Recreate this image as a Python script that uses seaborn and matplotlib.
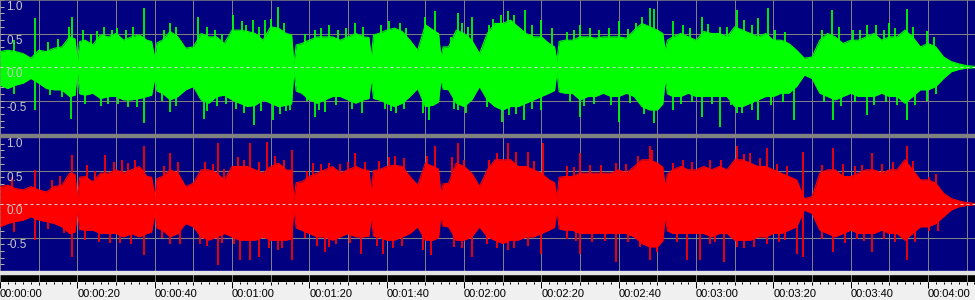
import numpy as np
import pandas as pd
import matplotlib
matplotlib.use("Agg")
import matplotlib.pyplot as plt
import seaborn as sns
from matplotlib.patches import Rectangle
from matplotlib.ticker import MultipleLocator, FixedLocator

# ---------------- data ----------------
times = list(range(0, 254, 2))  # seconds, body envelope sampled every 2 s

green_up = [0.23, 0.25, 0.23, 0.20, 0.13, 0.25, 0.23, 0.28, 0.30, 0.45, 0.08, 0.40, 0.33, 0.48, 0.45, 0.50, 0.40, 0.45, 0.48, 0.40,
            0.13, 0.40, 0.53, 0.45, 0.28, 0.30, 0.50, 0.45, 0.45, 0.35, 0.55, 0.55, 0.53, 0.50, 0.40, 0.60, 0.58, 0.50, 0.05, 0.35,
            0.40, 0.45, 0.45, 0.45, 0.40, 0.45, 0.50, 0.45, 0.13, 0.50, 0.55, 0.58, 0.53, 0.40, 0.25, 0.63, 0.55, 0.15, 0.30, 0.55,
            0.50, 0.40, 0.20, 0.50, 0.65, 0.65, 0.70, 0.60, 0.50, 0.45, 0.45, 0.35, 0.08, 0.40, 0.40, 0.45, 0.45, 0.43, 0.45, 0.45,
            0.45, 0.43, 0.55, 0.65, 0.60, 0.55, 0.25, 0.45, 0.50, 0.45, 0.40, 0.53, 0.50, 0.50, 0.45, 0.60, 0.55, 0.50, 0.45, 0.50,
            0.40, 0.40, 0.35, 0.25, 0.13, 0.15, 0.40, 0.50, 0.45, 0.35, 0.40, 0.40, 0.45, 0.50, 0.40, 0.45, 0.45, 0.55, 0.45, 0.30,
            0.35, 0.30, 0.15, 0.08, 0.045, 0.02, 0.01]
green_lo = [0.27, 0.32, 0.27, 0.24, 0.17, 0.24, 0.32, 0.34, 0.34, 0.44, 0.07, 0.42, 0.39, 0.47, 0.44, 0.44, 0.49, 0.49, 0.47, 0.44,
            0.17, 0.39, 0.49, 0.44, 0.34, 0.29, 0.49, 0.54, 0.44, 0.42, 0.49, 0.54, 0.59, 0.57, 0.49, 0.54, 0.59, 0.57, 0.05, 0.39,
            0.49, 0.54, 0.49, 0.44, 0.44, 0.49, 0.54, 0.49, 0.17, 0.49, 0.54, 0.59, 0.54, 0.44, 0.32, 0.59, 0.57, 0.19, 0.34, 0.54,
            0.59, 0.49, 0.29, 0.49, 0.59, 0.64, 0.59, 0.59, 0.54, 0.49, 0.44, 0.39, 0.07, 0.39, 0.39, 0.49, 0.44, 0.44, 0.39, 0.44,
            0.44, 0.39, 0.44, 0.59, 0.64, 0.64, 0.19, 0.44, 0.44, 0.39, 0.44, 0.44, 0.44, 0.44, 0.44, 0.59, 0.59, 0.54, 0.49, 0.44,
            0.44, 0.39, 0.39, 0.29, 0.12, 0.17, 0.39, 0.44, 0.49, 0.44, 0.39, 0.44, 0.44, 0.44, 0.39, 0.44, 0.44, 0.54, 0.44, 0.34,
            0.34, 0.29, 0.17, 0.07, 0.035, 0.015, 0.01]
red_up = [0.26, 0.28, 0.23, 0.21, 0.26, 0.21, 0.18, 0.26, 0.28, 0.46, 0.08, 0.41, 0.33, 0.46, 0.46, 0.51, 0.46, 0.51, 0.56, 0.41,
          0.11, 0.41, 0.51, 0.46, 0.26, 0.31, 0.51, 0.51, 0.46, 0.36, 0.56, 0.56, 0.56, 0.51, 0.46, 0.56, 0.61, 0.51, 0.06, 0.33,
          0.41, 0.46, 0.51, 0.56, 0.46, 0.51, 0.56, 0.51, 0.18, 0.51, 0.56, 0.58, 0.56, 0.41, 0.28, 0.61, 0.56, 0.16, 0.31, 0.61,
          0.56, 0.46, 0.26, 0.51, 0.66, 0.66, 0.66, 0.56, 0.56, 0.51, 0.46, 0.36, 0.08, 0.41, 0.41, 0.46, 0.46, 0.46, 0.46, 0.46,
          0.51, 0.46, 0.56, 0.66, 0.66, 0.61, 0.26, 0.51, 0.56, 0.51, 0.51, 0.56, 0.51, 0.56, 0.51, 0.66, 0.66, 0.61, 0.56, 0.56,
          0.51, 0.46, 0.41, 0.36, 0.08, 0.11, 0.46, 0.51, 0.51, 0.41, 0.41, 0.46, 0.51, 0.51, 0.46, 0.51, 0.51, 0.66, 0.51, 0.36,
          0.36, 0.31, 0.16, 0.08, 0.045, 0.02, 0.01]
red_lo = [0.34, 0.29, 0.26, 0.24, 0.19, 0.24, 0.26, 0.29, 0.34, 0.44, 0.09, 0.39, 0.39, 0.44, 0.44, 0.44, 0.49, 0.44, 0.49, 0.44,
          0.14, 0.39, 0.49, 0.44, 0.29, 0.34, 0.49, 0.54, 0.49, 0.44, 0.49, 0.54, 0.54, 0.54, 0.49, 0.54, 0.54, 0.54, 0.06, 0.39,
          0.44, 0.49, 0.49, 0.54, 0.49, 0.44, 0.49, 0.49, 0.19, 0.49, 0.54, 0.54, 0.49, 0.44, 0.34, 0.54, 0.54, 0.19, 0.34, 0.54,
          0.54, 0.49, 0.34, 0.49, 0.54, 0.59, 0.54, 0.54, 0.49, 0.49, 0.44, 0.39, 0.09, 0.39, 0.39, 0.44, 0.44, 0.44, 0.44, 0.44,
          0.44, 0.44, 0.49, 0.59, 0.64, 0.64, 0.19, 0.44, 0.44, 0.44, 0.44, 0.44, 0.49, 0.44, 0.44, 0.54, 0.54, 0.54, 0.49, 0.49,
          0.44, 0.44, 0.39, 0.34, 0.09, 0.14, 0.39, 0.44, 0.49, 0.44, 0.39, 0.44, 0.44, 0.44, 0.39, 0.44, 0.44, 0.54, 0.44, 0.34,
          0.34, 0.29, 0.19, 0.09, 0.04, 0.02, 0.01]

# body level just either side of the sharp silent notches
edge_t = [19.4, 20.6, 39.2, 40.6, 75.4, 76.6, 95.4, 96.6, 113.4, 114.6, 143.4, 144.6, 171.4, 172.6]
green_edge_up = [0.42, 0.38, 0.38, 0.36, 0.48, 0.33, 0.44, 0.48, 0.50, 0.30, 0.30, 0.38, 0.50, 0.40]
green_edge_lo = [0.42, 0.40, 0.42, 0.36, 0.55, 0.36, 0.47, 0.47, 0.52, 0.33, 0.35, 0.37, 0.55, 0.40]
red_edge_up = [0.44, 0.40, 0.40, 0.38, 0.50, 0.32, 0.50, 0.50, 0.52, 0.30, 0.32, 0.40, 0.55, 0.45]
red_edge_lo = [0.42, 0.38, 0.42, 0.36, 0.52, 0.36, 0.48, 0.48, 0.50, 0.33, 0.35, 0.37, 0.55, 0.40]

# isolated peaks above / below the dense body
green_spk_up_t = [9.1, 17.9, 18.7, 25.0, 30.2, 37.2, 44.0, 51.3, 60.3, 65.5, 68.5, 72.0, 81.5, 85.0, 91.8, 100.5, 110.0, 112.5,
                  118.5, 122.0, 129.5, 131.4, 135.8, 140.0, 142.7, 150.0, 160.0, 166.0, 168.1, 169.0, 174.0, 181.5, 186.2,
                  190.5, 196.1, 198.7, 215.1, 224.1, 230.0, 234.5, 239.6,
                  3.5, 12.5, 15.0, 21.5, 23.5, 27.0, 29.0, 32.5, 34.5, 42.5, 45.5, 53.5, 55.5, 57.5, 62.5, 63.5, 67.0, 70.0,
                  73.5, 79.0, 83.0, 87.5, 89.5, 94.0, 98.5, 103.5, 105.0, 116.5, 119.5, 121.0, 126.5, 127.5, 133.0, 137.5,
                  146.5, 148.5, 152.5, 155.0, 157.5, 162.5, 164.5, 176.5, 178.5, 183.0, 188.0, 192.5, 194.5, 200.5, 203.0,
                  212.5, 217.0, 220.5, 222.5, 226.5, 228.5, 231.5, 236.0, 241.5]
green_spk_up_v = [0.73, 0.60, 0.75, 0.53, 0.58, 0.88, 0.65, 0.75, 0.78, 0.70, 0.70, 0.90, 0.55, 0.63, 0.65, 0.68, 0.75, 0.83,
                  0.80, 0.75, 0.78, 0.83, 0.85, 0.70, 0.58, 0.63, 0.68, 0.75, 0.88, 0.86, 0.68, 0.75, 0.60,
                  0.85, 0.73, 0.88, 0.85, 0.63, 0.65, 0.86, 0.53,
                  0.40, 0.38, 0.42, 0.55, 0.50, 0.60, 0.55, 0.55, 0.60, 0.55, 0.60, 0.60, 0.55, 0.50, 0.68, 0.62, 0.60, 0.72,
                  0.65, 0.50, 0.58, 0.55, 0.58, 0.60, 0.62, 0.66, 0.58, 0.45, 0.65, 0.60, 0.62, 0.72, 0.78, 0.62,
                  0.52, 0.55, 0.58, 0.55, 0.58, 0.56, 0.66, 0.62, 0.58, 0.64, 0.60, 0.70, 0.62, 0.55, 0.52,
                  0.55, 0.60, 0.55, 0.55, 0.62, 0.55, 0.58, 0.60, 0.45]
green_spk_dn_t = [9.1, 18.4, 28.0, 37.2, 44.0, 52.8, 65.8, 70.7, 75.0, 81.5, 84.0, 93.5, 102.5, 111.0, 118.5, 129.8, 135.5,
                  140.0, 150.0, 160.0, 169.0, 174.0, 181.5, 186.2, 190.5, 196.1, 205.2, 215.5, 224.1, 234.5, 239.6,
                  3.5, 13.0, 16.0, 22.0, 26.0, 30.5, 33.0, 35.5, 42.0, 45.5, 53.5, 56.0, 58.5, 61.0, 63.0, 67.5, 72.5, 74.0,
                  79.5, 82.5, 87.0, 91.0, 99.5, 101.0, 104.5, 109.5, 117.5, 120.5, 126.0, 131.5, 133.5, 137.5, 147.5, 151.0,
                  153.5, 158.0, 163.0, 166.5, 176.0, 179.0, 184.0, 189.0, 192.0, 194.5, 199.5, 202.5, 213.0, 217.5, 221.0,
                  226.0, 229.0, 232.0, 236.5, 242.0]
green_spk_dn_v = [0.64, 0.77, 0.55, 0.83, 0.67, 0.77, 0.87, 0.79, 0.64, 0.74, 0.67, 0.69, 0.69, 0.79, 0.64, 0.82, 0.79,
                  0.64, 0.74, 0.82, 0.84, 0.64, 0.74, 0.89, 0.69, 0.79, 0.79, 0.79, 0.72, 0.79, 0.50,
                  0.40, 0.42, 0.45, 0.55, 0.58, 0.55, 0.60, 0.60, 0.50, 0.58, 0.65, 0.58, 0.55, 0.62, 0.68, 0.66, 0.70, 0.66,
                  0.50, 0.64, 0.56, 0.62, 0.62, 0.66, 0.62, 0.68, 0.62, 0.68, 0.60, 0.72, 0.70, 0.62, 0.52, 0.58,
                  0.55, 0.56, 0.54, 0.70, 0.55, 0.52, 0.55, 0.56, 0.68, 0.64, 0.56, 0.52, 0.52, 0.58, 0.52,
                  0.56, 0.52, 0.56, 0.56, 0.40]
red_spk_up_t = [9.1, 18.5, 27.2, 33.2, 37.2, 44.0, 56.4, 64.6, 69.0, 75.4, 81.0, 85.0, 91.8, 102.2, 112.5, 118.5, 131.4,
                136.6, 140.5, 150.0, 159.3, 168.1, 168.5, 174.0, 190.7, 194.0, 198.3, 207.7, 215.5, 225.4, 234.5, 240.2,
                3.0, 13.5, 15.5, 22.5, 24.5, 29.5, 31.5, 35.0, 42.5, 46.0, 53.0, 55.0, 58.0, 61.5, 63.0, 67.0, 71.0, 73.5,
                79.5, 83.0, 88.0, 90.0, 94.5, 98.0, 100.5, 104.5, 110.5, 117.0, 120.0, 126.5, 128.5, 133.5, 138.0, 146.5,
                148.5, 152.5, 155.5, 162.0, 165.0, 176.5, 179.0, 183.5, 186.5, 192.5, 196.5, 201.0, 203.5, 212.5, 218.0,
                221.0, 223.0, 228.0, 231.0, 236.0, 242.0]
red_spk_up_v = [0.51, 0.73, 0.73, 0.61, 0.86, 0.76, 0.91, 0.91, 0.93, 0.81, 0.61, 0.61, 0.76, 0.71, 0.86, 0.91, 0.91,
                0.78, 0.91, 0.76, 0.61, 0.86, 0.81, 0.61, 0.87, 0.76, 0.83, 0.78, 0.83, 0.76, 0.86, 0.41,
                0.40, 0.36, 0.42, 0.58, 0.50, 0.62, 0.66, 0.66, 0.56, 0.62, 0.62, 0.60, 0.52, 0.70, 0.66, 0.62, 0.72, 0.66,
                0.50, 0.60, 0.60, 0.62, 0.62, 0.64, 0.70, 0.68, 0.72, 0.70, 0.66, 0.66, 0.76, 0.78, 0.64, 0.56,
                0.55, 0.58, 0.58, 0.60, 0.72, 0.66, 0.62, 0.66, 0.66, 0.74, 0.68, 0.60, 0.56, 0.58, 0.60,
                0.56, 0.58, 0.60, 0.62, 0.64, 0.45]
red_spk_dn_t = [9.1, 18.5, 37.2, 44.0, 51.7, 56.4, 62.0, 64.6, 67.0, 75.4, 84.0, 85.0, 93.3, 99.0, 111.5, 122.0, 131.4,
                140.0, 150.0, 159.3, 168.1, 177.6, 181.0, 187.1, 190.7, 198.3, 206.0, 207.7, 215.5, 225.4, 234.5, 240.2,
                3.5, 12.5, 16.5, 22.0, 25.5, 28.5, 31.0, 34.0, 42.0, 46.5, 53.5, 57.5, 60.5, 69.5, 72.0, 73.0, 79.0, 82.0,
                87.0, 90.5, 97.5, 101.5, 104.0, 109.5, 117.5, 119.5, 126.0, 128.5, 133.0, 136.5, 146.5, 149.0, 153.0, 156.5,
                162.5, 165.5, 170.0, 175.0, 183.5, 185.0, 192.5, 195.0, 201.5, 203.0, 212.5, 218.5, 221.5, 223.5, 228.5,
                231.5, 236.5, 242.5]
red_spk_dn_v = [0.54, 0.79, 0.76, 0.59, 0.59, 0.91, 0.84, 0.84, 0.79, 0.84, 0.71, 0.64, 0.74, 0.74, 0.76, 0.79, 0.69,
                0.74, 0.74, 0.86, 0.84, 0.84, 0.84, 0.86, 0.64, 0.59, 0.74, 0.79, 0.71, 0.72, 0.84, 0.41,
                0.42, 0.38, 0.44, 0.54, 0.56, 0.58, 0.58, 0.60, 0.50, 0.60, 0.62, 0.58, 0.60, 0.66, 0.68, 0.66, 0.50, 0.62,
                0.60, 0.58, 0.62, 0.66, 0.62, 0.68, 0.64, 0.66, 0.60, 0.66, 0.66, 0.62, 0.52, 0.55, 0.56, 0.55,
                0.56, 0.64, 0.72, 0.56, 0.60, 0.56, 0.66, 0.64, 0.56, 0.54, 0.52, 0.58, 0.52, 0.55, 0.52,
                0.56, 0.56, 0.40]

amp_labels = ["1.0", "0.5", "0.0", "-0.5"]
amp_label_pos = [1.0, 0.5, 0.0, -0.5]
time_labels = ["00:00:00", "00:00:20", "00:00:40", "00:01:00", "00:01:20", "00:01:40", "00:02:00",
               "00:02:20", "00:02:40", "00:03:00", "00:03:20", "00:03:40", "00:04:00"]

# ---------------- style ----------------
sns.set_theme(style="dark")
plt.rcParams["font.family"] = ["Liberation Sans", "DejaVu Sans"]
plt.rcParams["lines.scale_dashes"] = False

W, H = 975, 300
XMAX = 975 / 3.867
NAVY = "#000080"
GRID = "#808080"
PX = 0.72  # one pixel in points

fig = plt.figure(figsize=(W / 100, H / 100), dpi=100, facecolor="#f0f0f0")


def fy(px):
    return 1 - px / H


ax1 = fig.add_axes([0, fy(134), 1, 134 / H])
ax2 = fig.add_axes([0, fy(271), 1, 134 / H])
axb = fig.add_axes([0, fy(282), 1, 8 / H])

fig.add_artist(Rectangle((0, fy(137)), 1, 3 / H, transform=fig.transFigure, color=GRID, zorder=5))
fig.add_artist(Rectangle((0, fy(274)), 1, 3 / H, transform=fig.transFigure, color="#e4e4e4", zorder=5))

channels = [
    (ax1, green_up, green_lo, green_edge_up, green_edge_lo,
     green_spk_up_t, green_spk_up_v, green_spk_dn_t, green_spk_dn_v, "#00ff00"),
    (ax2, red_up, red_lo, red_edge_up, red_edge_lo,
     red_spk_up_t, red_spk_up_v, red_spk_dn_t, red_spk_dn_v, "#ff0000"),
]

for ax, up, lo, eup, elo, sut, suv, sdt, sdv, col in channels:
    ax.set_facecolor(NAVY)
    ax.set_xlim(0, XMAX)
    ax.set_ylim(-1, 1)
    df = pd.DataFrame({"t": times + edge_t, "up": up + eup, "lo": [-v for v in lo + elo]})
    df = df.sort_values("t").reset_index(drop=True)
    ax.fill_between(df["t"], df["lo"], df["up"], color=col, lw=0, zorder=2)
    sns.lineplot(data=df, x="t", y="up", ax=ax, color=col, lw=0.8, zorder=2, sort=False)
    sns.lineplot(data=df, x="t", y="lo", ax=ax, color=col, lw=0.8, zorder=2, sort=False)
    ax.vlines(sut, 0, suv, color=col, lw=1.8 * PX, zorder=2)
    ax.vlines(sdt, [-v for v in sdv], 0, color=col, lw=1.8 * PX, zorder=2)
    ax.axhline(0, color="#d0d0d0", lw=PX, dashes=(3 * PX, 3 * PX), zorder=3)
    # grid
    ax.set_axisbelow(True)
    ax.xaxis.set_major_locator(MultipleLocator(10))
    ax.yaxis.set_major_locator(FixedLocator([-0.5, 0.5]))
    ax.yaxis.set_minor_locator(MultipleLocator(0.1))
    ax.grid(True, which="major", color=GRID, lw=PX)
    ax.tick_params(axis="x", length=0, labelbottom=False)
    ax.tick_params(axis="y", which="both", direction="in", length=3, width=PX,
                   color="#b0b0b0", labelleft=False, left=True)
    ax.set_xlabel("")
    ax.set_ylabel("")
    for s in ax.spines.values():
        s.set_visible(False)
    for lab, pos in zip(amp_labels, amp_label_pos):
        ax.text(6.5 / W, pos - 0.02, lab, transform=ax.get_yaxis_transform(),
                ha="left", va="top", fontsize=8.5, color="#c8c8c8", zorder=4)

ax1.spines["top"].set_visible(True)
ax1.spines["top"].set_color(GRID)
ax1.spines["top"].set_linewidth(PX * 1.5)

# time ruler
axb.set_facecolor("black")
axb.set_xlim(0, XMAX)
axb.set_ylim(0, 1)
axb.set_yticks([])
for s in axb.spines.values():
    s.set_visible(False)
major_t = list(range(0, 251, 10))
lab_map = dict(zip(range(0, 241, 20), time_labels))
axb.set_xticks(major_t, [lab_map.get(t, "") for t in major_t])
axb.xaxis.set_minor_locator(MultipleLocator(2))
axb.grid(True, which="major", axis="x", color=GRID, lw=PX)
axb.tick_params(axis="x", which="major", length=3 * PX, width=PX, color="black",
                labelsize=8, labelcolor="black", pad=3.2)
axb.tick_params(axis="x", which="minor", length=1.6 * PX, width=PX, color="black")
for lab in axb.get_xticklabels():
    lab.set_horizontalalignment("left")

axt = axb.twiny()
axt.set_xlim(0, XMAX)
axt.xaxis.set_ticks_position("bottom")
axt.set_xticks(list(range(0, 241, 20)))
axt.tick_params(axis="x", length=5.5 * PX, width=PX, color="black", labelbottom=False, labeltop=False)
for s in axt.spines.values():
    s.set_visible(False)

fig.savefig("out.png", dpi=100, facecolor=fig.get_facecolor())
